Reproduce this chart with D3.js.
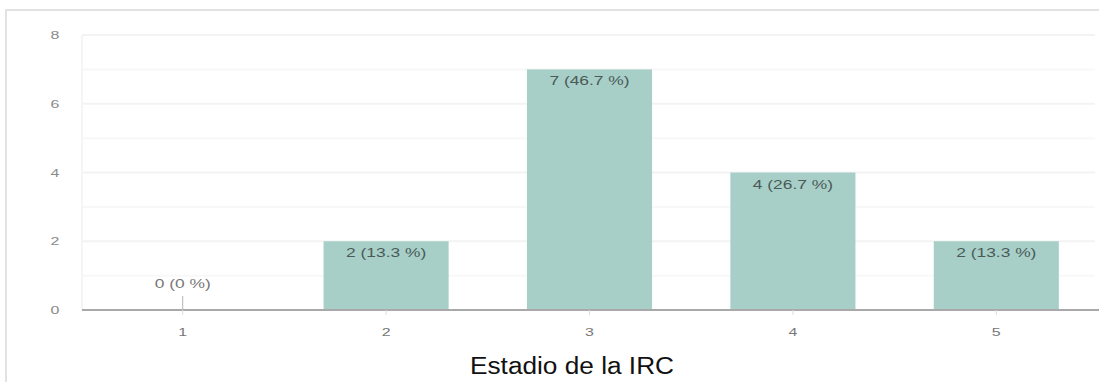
<!DOCTYPE html>
<html>
<head>
<meta charset="utf-8">
<script src="https://cdn.jsdelivr.net/npm/d3@7"></script>
<style>
  html, body { margin: 0; padding: 0; background: #fff; }
  svg { display: block; font-family: "Liberation Sans", Arial, sans-serif; }
</style>
</head>
<body>
<svg id="chart" width="1099" height="382"></svg>
<script>
// Number of patients per CKD stage
const stages = ["1", "2", "3", "4", "5"];
const counts = [0, 2, 7, 4, 2];
const percents = ["0", "13.3", "46.7", "26.7", "13.3"];
const yTicks = [0, 2, 4, 6, 8];
const xTitle = "Estadio de la IRC";

const W = 1099, H = 382;
const svg = d3.select("#chart");
// small texts are drawn horizontally widened
const widen = 1.45;

// outer frame (open to the right and bottom)
svg.append("path")
  .attr("d", `M6,${H} L6,10 L${W},10`)
  .attr("fill", "none")
  .attr("stroke", "#e2e2e2")
  .attr("stroke-width", 2);

const x = d3.scaleBand()
  .domain(stages)
  .range([81, 1098])
  .paddingInner(0.385)
  .paddingOuter(0.1925);

const y = d3.scaleLinear().domain([0, 8]).range([310, 35]);

const plotLeft = 82, plotRight = 1095;

// minor gridlines at odd values
svg.append("g").selectAll("line")
  .data(d3.range(1, 8, 2))
  .join("line")
  .attr("x1", plotLeft).attr("x2", plotRight)
  .attr("y1", d => y(d)).attr("y2", d => y(d))
  .attr("stroke", "#f8f8f8").attr("stroke-width", 2);

// major gridlines
svg.append("g").selectAll("line")
  .data(yTicks.filter(d => d > 0))
  .join("line")
  .attr("x1", plotLeft).attr("x2", plotRight)
  .attr("y1", d => y(d)).attr("y2", d => y(d))
  .attr("stroke", "#f3f3f3").attr("stroke-width", 2);

// faint left edge of plot area
svg.append("line")
  .attr("x1", plotLeft).attr("x2", plotLeft)
  .attr("y1", y(8)).attr("y2", y(0))
  .attr("stroke", "#f5f5f5").attr("stroke-width", 2);

// y axis labels
const yAxis = d3.axisLeft(y).tickValues(yTicks).tickSize(0).tickPadding(0);
const gy = svg.append("g").attr("transform", "translate(55,0)").call(yAxis);
gy.select(".domain").remove();
gy.selectAll("text")
  .attr("text-anchor", "middle")
  .attr("x", 0)
  .attr("transform", `scale(${widen},1)`)
  .attr("font-size", 11)
  .attr("fill", "#8a8a8a")
  .attr("font-family", "Liberation Sans, Arial, sans-serif");

// bars
svg.append("g").selectAll("rect")
  .data(stages)
  .join("rect")
  .attr("x", d => x(d))
  .attr("width", x.bandwidth())
  .attr("y", (d, i) => y(counts[i]))
  .attr("height", (d, i) => y(0) - y(counts[i]))
  .attr("fill", "#a7cfc8");

// x axis (baseline + small ticks + labels)
const xAxis = d3.axisBottom(x).tickSize(5).tickPadding(0).tickSizeOuter(0);
const gx = svg.append("g").attr("transform", `translate(0,${y(0)})`).call(xAxis);
gx.select(".domain")
  .attr("d", `M${plotLeft},0H${W}`)
  .attr("stroke", "#a9a9a9")
  .attr("stroke-width", 2);
gx.selectAll(".tick line").attr("stroke", "#dcdcdc");
gx.selectAll("text")
  .attr("y", 0)
  .attr("dy", 0)
  .attr("transform", `translate(0,26) scale(${widen},1)`)
  .attr("font-size", 11)
  .attr("fill", "#777")
  .attr("font-family", "Liberation Sans, Arial, sans-serif");

// stems for zero-height bars
svg.append("g").selectAll("line")
  .data(stages.filter((d, i) => counts[i] === 0))
  .join("line")
  .attr("x1", d => x(d) + x.bandwidth() / 2)
  .attr("x2", d => x(d) + x.bandwidth() / 2)
  .attr("y1", y(0) - 14).attr("y2", y(0))
  .attr("stroke", "#b5b5b5").attr("stroke-width", 1);

// value labels
svg.append("g").selectAll("text")
  .data(stages)
  .join("text")
  .attr("transform", (d, i) => {
    const tx = x(d) + x.bandwidth() / 2;
    const ty = counts[i] === 0 ? y(0) - 22 : y(counts[i]) + 16;
    return `translate(${tx},${ty}) scale(${widen},1)`;
  })
  .attr("text-anchor", "middle")
  .attr("font-size", 12)
  .attr("fill", (d, i) => counts[i] === 0 ? "#777" : "#4a5a57")
  .text((d, i) => `${counts[i]} (${percents[i]} %)`);

// axis title
svg.append("text")
  .attr("x", 572)
  .attr("y", 374)
  .attr("text-anchor", "middle")
  .attr("font-size", 23)
  .attr("fill", "#111")
  .attr("textLength", 204)
  .attr("lengthAdjust", "spacingAndGlyphs")
  .text(xTitle);
</script>
</body>
</html>
